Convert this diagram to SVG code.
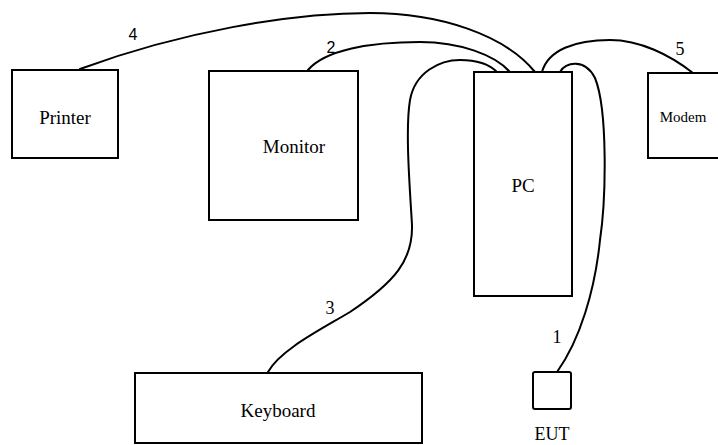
<svg xmlns="http://www.w3.org/2000/svg" width="718" height="445" viewBox="0 0 718 445">
<style>
.box{fill:#fff;stroke:#000;stroke-width:2}
.cable{fill:none;stroke:#000;stroke-width:2;stroke-linecap:round}
.t{font-family:"Liberation Serif","Times New Roman",serif;font-size:19px;fill:#000;text-anchor:middle}
.n{font-family:"Liberation Serif","Times New Roman",serif;font-size:18px;fill:#000;text-anchor:middle}
.ns{font-family:"Liberation Sans",Arial,sans-serif;font-size:16px;fill:#000;text-anchor:middle}
</style>
<rect width="718" height="445" fill="#fff"/>
<g id="printer"><rect class="box" x="12" y="70" width="106" height="88"/><text class="t" x="65" y="124">Printer</text></g>
<g id="monitor"><rect class="box" x="209" y="71" width="149" height="149"/><text class="t" x="294" y="153">Monitor</text></g>
<g id="pc"><rect class="box" x="474" y="72" width="98" height="224"/><text class="t" x="523" y="192">PC</text></g>
<g id="modem"><rect class="box" x="648" y="73" width="75" height="85"/><text class="t" x="683" y="122" style="font-size:15px">Modem</text></g>
<g id="keyboard"><rect class="box" x="135" y="373" width="287" height="70"/><text class="t" x="278" y="417">Keyboard</text></g>
<g id="eut"><rect class="box" x="533" y="372" width="38" height="37" rx="2"/><text class="t" x="552" y="440" style="font-size:18px">EUT</text></g>
<g id="connectors">
<path class="cable" d="M80,69 C 180,32 290,13 370,13 C 440,13 505,35 535,72"/>
<path class="cable" d="M308,70 C 325,50 370,42 420,42 C 460,42 495,55 510,72"/>
<path class="cable" d="M268,372 C 280,350 320,330 350,312 C 395,282 413,260 412,225 C 410,190 405,130 410,100 C 415,72 440,60 460,60 C 478,60 490,65 497,72"/>
<path class="cable" d="M542,72 C 548,50 575,40 610,40 C 640,40 670,55 693,73"/>
<path class="cable" d="M560,72 C 565,62 585,58 595,78 C 608,110 606,200 600,240 C 595,290 580,340 557,372"/>
</g>
<g id="labels">
<text class="ns" x="133" y="40">4</text>
<text class="ns" x="331" y="53">2</text>
<text class="n" x="330" y="314">3</text>
<text class="n" x="557" y="343">1</text>
<text class="n" x="680" y="55">5</text>
</g>
</svg>
